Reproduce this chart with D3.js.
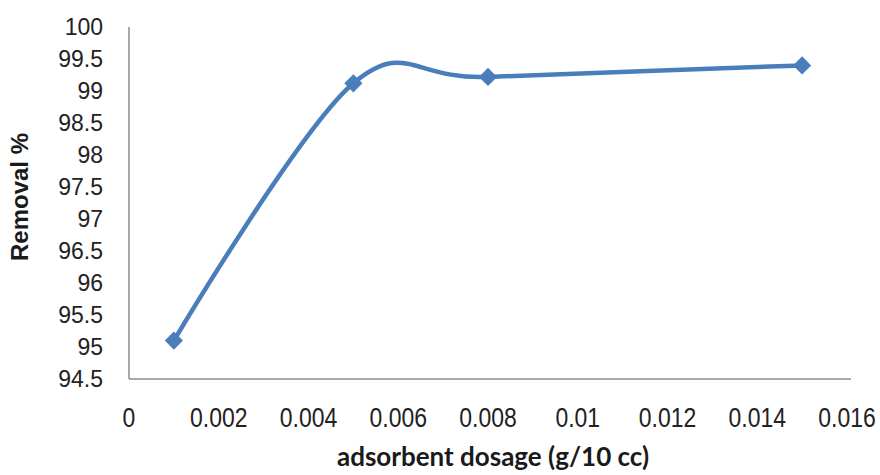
<!DOCTYPE html>
<html>
<head>
<meta charset="utf-8">
<script src="https://cdn.jsdelivr.net/npm/d3@7"></script>
<style>
body { margin: 0; background: #fff; }
</style>
</head>
<body>
<script>
var svgWidth = 880;
var svgHeight = 475;

// data
var dosage = [0.001, 0.005, 0.008, 0.015];
var removal = [95.1, 99.12, 99.22, 99.4];
var xTicks = [0, 0.002, 0.004, 0.006, 0.008, 0.01, 0.012, 0.014, 0.016];
var yTicks = [94.5, 95, 95.5, 96, 96.5, 97, 97.5, 98, 98.5, 99, 99.5, 100];

var points = dosage.map(function (d, i) {
	return {x: d, y: removal[i]};
});

var svg = d3.select('body')
	.append('svg')
	.attr('width', svgWidth)
	.attr('height', svgHeight);

var x = d3.scaleLinear().domain([0, 0.016]).range([129, 847]);
var y = d3.scaleLinear().domain([94.5, 100]).range([379, 27]);

// axis lines
svg.append('line')
	.attr('x1', x(0)).attr('x2', x(0))
	.attr('y1', y(100)).attr('y2', y(94.5))
	.attr('stroke', '#8c8c8c').attr('stroke-width', 1.5);
svg.append('line')
	.attr('x1', x(0)).attr('x2', x(0.016) + 4)
	.attr('y1', y(94.5)).attr('y2', y(94.5))
	.attr('stroke', '#8c8c8c').attr('stroke-width', 1.5);

// tick labels
svg.append('g').selectAll('text')
	.data(yTicks)
	.enter()
	.append('text')
	.attr('x', 103)
	.attr('y', function (d) { return y(d); })
	.attr('dy', '0.36em')
	.attr('text-anchor', 'end')
	.style('font-family', "'Liberation Sans', Arial, sans-serif")
	.attr('font-size', 23)
	.attr('fill', '#222')
	.text(function (d) { return d; });

svg.append('g').selectAll('text')
	.data(xTicks)
	.enter()
	.append('text')
	.attr('transform', function (d) { return 'translate(' + x(d) + ',427) scale(0.92,1.08)'; })
	.attr('text-anchor', 'middle')
	.style('font-family', "'Liberation Sans', Arial, sans-serif")
	.attr('font-size', 25)
	.attr('fill', '#222')
	.text(function (d) { return d; });

// axis titles
svg.append('text')
	.attr('transform', 'translate(28,197) rotate(-90)')
	.attr('text-anchor', 'middle')
	.style('font-family', "'Liberation Sans', Arial, sans-serif")
	.attr('font-weight', 'bold')
	.attr('font-size', 24)
	.attr('fill', '#1a1a1a')
	.text('Removal %');

svg.append('text')
	.attr('x', 493)
	.attr('y', 466)
	.attr('text-anchor', 'middle')
	.style('font-family', 'Lato, sans-serif')
	.attr('font-weight', 'bold')
	.attr('font-size', 26)
	.attr('fill', '#1a1a1a')
	.text('adsorbent dosage (g/10 cc)');

// smoothed line
var line = d3.line()
	.x(function (d) { return x(d.x); })
	.y(function (d) { return y(d.y); })
	.curve(d3.curveCardinal);

svg.append('path')
	.datum(points)
	.attr('d', line)
	.attr('fill', 'none')
	.attr('stroke', '#4a7ebb')
	.attr('stroke-width', 4.5);

// diamond markers
svg.append('g').selectAll('path')
	.data(points)
	.enter()
	.append('path')
	.attr('transform', function (d) { return 'translate(' + x(d.x) + ',' + y(d.y) + ')'; })
	.attr('d', d3.symbol().type(d3.symbolDiamond2).size(210))
	.attr('fill', '#4a7ebb');
</script>
</body>
</html>
